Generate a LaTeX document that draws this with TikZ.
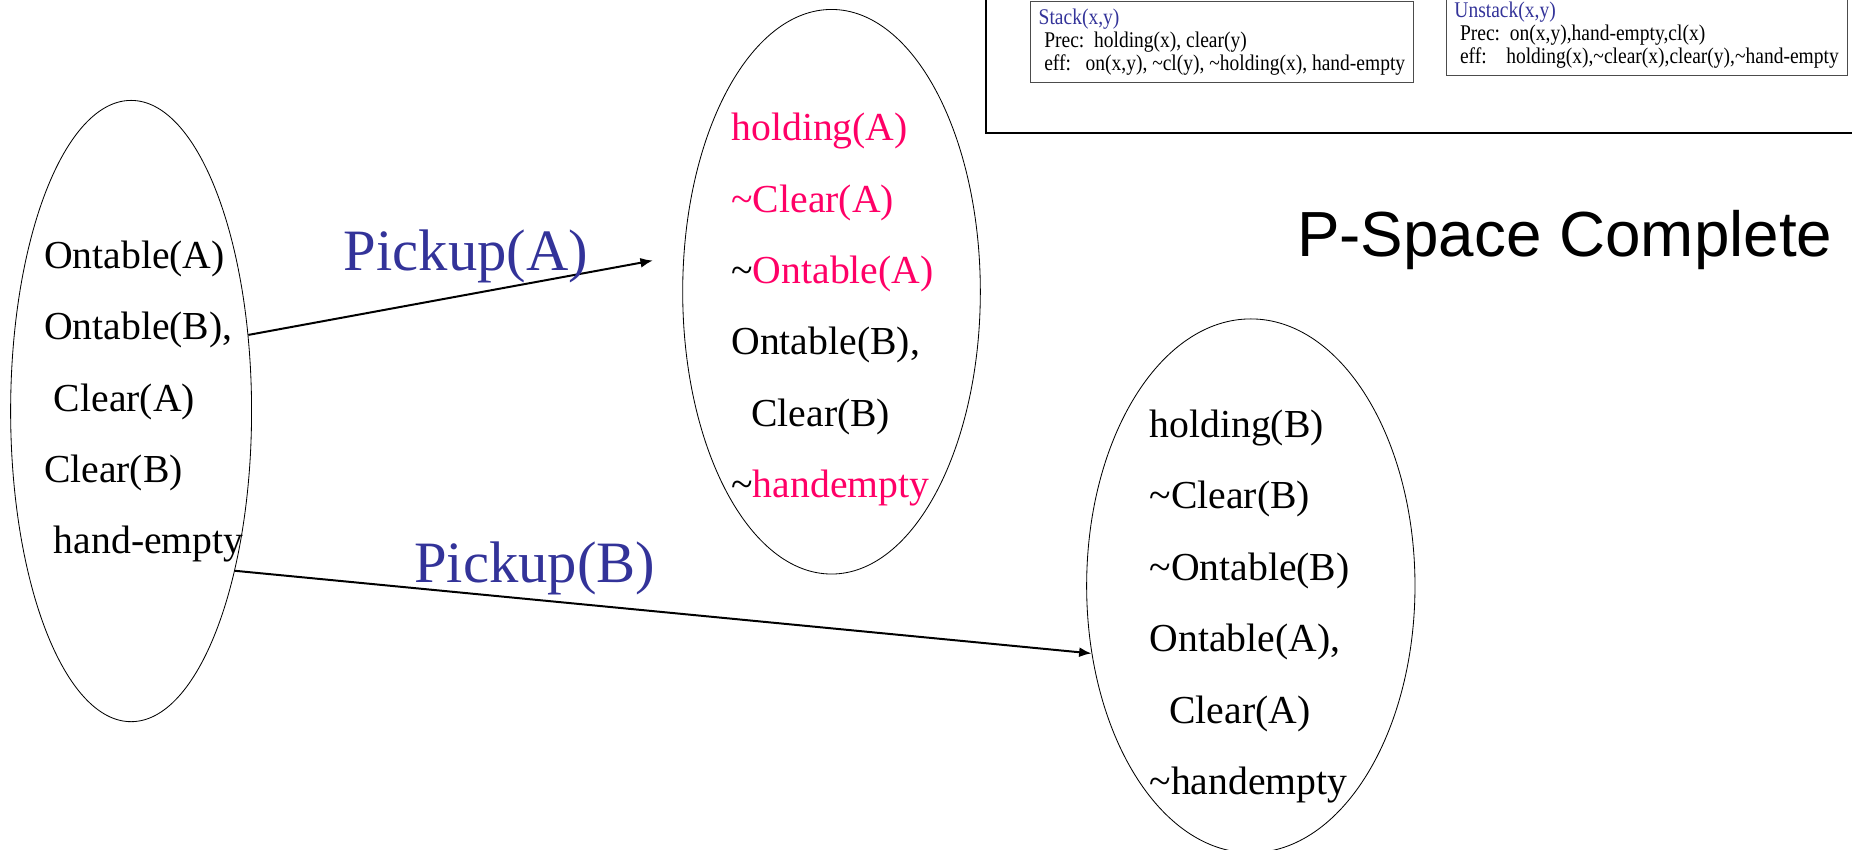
\documentclass[tikz,border=0pt]{standalone}
\usepackage{fontspec}
\setmainfont{Liberation Serif}
\setsansfont{Liberation Sans}
\newfontfamily\narrowserif[FakeStretch=0.87]{Liberation Serif}
\usetikzlibrary{arrows.meta, shapes.geometric}
\definecolor{effpink}{RGB}{255,0,102}
\definecolor{opblue}{RGB}{51,51,153}
\newcommand{\tld}{\textasciitilde}
\newcommand{\chg}[1]{\textcolor{effpink}{#1}}
\tikzset{state/.style = {shape=ellipse,draw,line width=0.5pt,inner sep=0pt}}
\tikzset{facts/.style = {anchor=north west,inner sep=0pt,align=left,font=\fontsize{23.9pt}{43pt}\selectfont}}
\tikzset{schema/.style = {draw=black!70,line width=0.6pt,anchor=north west,inner xsep=0.175cm,inner ysep=0.15cm,align=left,font=\narrowserif\fontsize{13.5pt}{13.9pt}\selectfont}}
\tikzset{act/.style = {inner sep=0pt,text=opblue,font=\fontsize{35.3pt}{42pt}\selectfont}}
\tikzset{edge/.style = {-{Latex[length=7.5pt,width=6pt]},line width=1.2pt}}

\begin{document}
\begin{tikzpicture}
  \useasboundingbox (0,0) rectangle (39.2,-17.975);
  \clip (0,0) rectangle (39.2,-17.975);
  % operator frame with the two schemas
  \draw[line width=1.2pt] (20.875,0.5) rectangle (39.8,-2.825);
  \node[schema] (stack) at (21.8,-0.03) {\textcolor{opblue}{Stack(x,y)}\\\hspace*{.25em}Prec:\ \ holding(x), clear(y)\\\hspace*{.25em}eff:\ \ \ on(x,y), \tld cl(y), \tld holding(x), hand-empty};
  \node[schema] (unstack) at (30.6,0.13) {\textcolor{opblue}{Unstack(x,y)}\\\hspace*{.25em}Prec:\ \ on(x,y),hand-empty,cl(x)\\\hspace*{.25em}eff:\ \ \ \ holding(x),\tld clear(x),clear(y),\tld hand-empty};
  % states
  \node[state, minimum width=5.1cm, minimum height=13.15cm] (s0) at (2.775,-8.7) {};
  \node[facts] (f0) at (0.925,-5.09) {Ontable(A)\\Ontable(B),\\\hspace*{.25em}Clear(A)\\Clear(B)\\\hspace*{.25em}hand-empty};
  \node[state, minimum width=6.3cm, minimum height=11.95cm] (s1) at (17.6,-6.175) {};
  \node[facts] (f1) at (15.475,-2.39) {\chg{holding(A)}\\\chg{\tld Clear(A)}\\\tld\chg{Ontable(A)}\\Ontable(B),\\\hspace*{.5em}Clear(B)\\\tld\chg{handempty}};
  \node[state, minimum width=6.95cm, minimum height=11.3cm] (s2) at (26.475,-12.4) {};
  \node[facts] (f2) at (24.325,-8.67) {holding(B)\\\tld Clear(B)\\\tld Ontable(B)\\Ontable(A),\\\hspace*{.5em}Clear(A)\\\tld handempty};
  \node[anchor=base west, inner sep=0pt, font=\sffamily\fontsize{38.4pt}{46pt}\selectfont] (title) at (27.45,-5.435) {P-Space Complete};
  % actions
  \draw[edge, shorten >=0.66cm] (s0.33) -- (s1.166) node[act, midway, above=6.5pt] (pa) {Pickup(A)};
  \draw[edge] (s0.-57) -- (s2.203) node[act, pos=0.35, above=2.5pt] (pb) {Pickup(B)};
\end{tikzpicture}
\end{document}
